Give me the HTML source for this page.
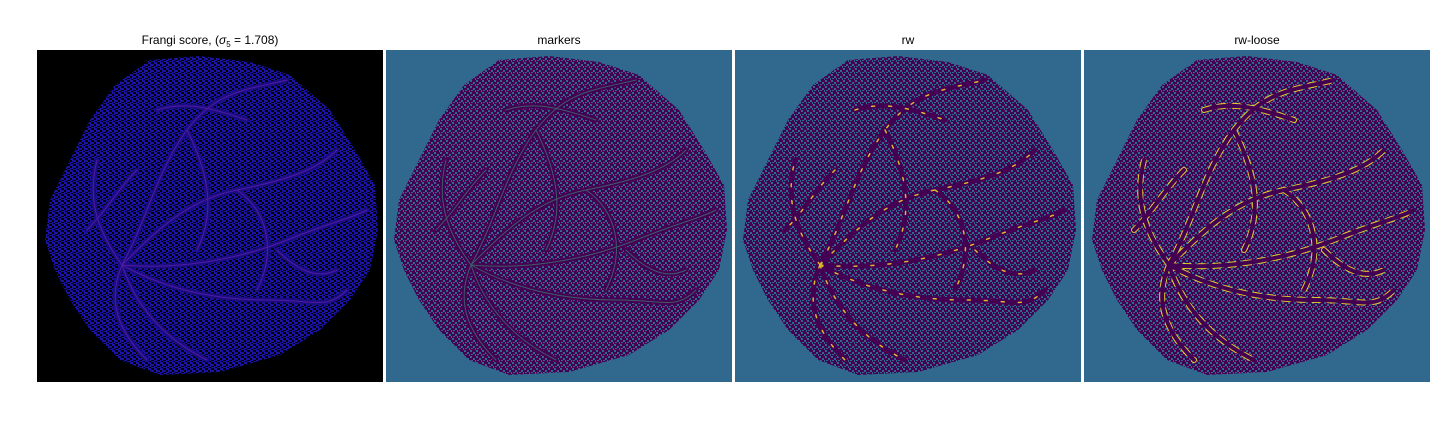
<!DOCTYPE html>
<html><head><meta charset="utf-8"><style>
body{margin:0;background:#fff;width:1440px;height:432px;overflow:hidden;font-family:"Liberation Sans","DejaVu Sans",sans-serif}
</style></head><body>
<svg width="1440" height="432" viewBox="0 0 1440 432">
<defs>
<pattern id="p1" width="6" height="6" patternUnits="userSpaceOnUse">
<rect width="6" height="6" fill="#1a12a0"/><rect x="0" y="0" width="3" height="2" fill="#000"/><rect x="3" y="2" width="2" height="2" fill="#000"/><rect x="0" y="4" width="3" height="1" fill="#000"/><rect x="4" y="5" width="2" height="1" fill="#000"/>
</pattern>
<pattern id="p2" width="6" height="6" patternUnits="userSpaceOnUse">
<rect width="6" height="6" fill="#440154"/><rect x="0" y="0" width="2" height="2" fill="#31688e"/><rect x="3" y="2" width="2" height="2" fill="#31688e"/><rect x="1" y="4" width="2" height="1" fill="#31688e"/><rect x="5" y="4" width="1" height="2" fill="#31688e"/>
</pattern>
<path id="blob" d="M113,10 L163,6 L213,12 L253,25 L293,60 L318,100 L338,135 L341,180 L333,220 L313,250 L283,280 L243,305 L183,322 L123,325 L83,310 L53,280 L33,250 L18,220 L8,190 L13,150 L33,110 L53,70 L78,35 Z"/>
<g id="ves" fill="none" stroke-linecap="round">
<path d="M85,215 C120,180 150,150 200,140 S280,120 300,100"/>
<path d="M85,215 C110,170 120,120 150,80 S210,40 250,30"/>
<path d="M85,215 C140,220 200,210 250,190 S310,170 330,160"/>
<path d="M85,215 C130,240 180,250 230,250 S290,260 310,240"/>
<path d="M85,215 C100,260 130,290 170,310"/>
<path d="M85,215 C70,250 80,280 110,310"/>
<path d="M85,215 C60,180 50,150 60,110"/>
<path d="M150,80 C170,120 180,160 160,200"/>
<path d="M200,140 C230,160 240,200 220,240"/>
<path d="M120,60 C150,50 180,60 210,70"/>
<path d="M240,200 C260,220 280,230 300,220"/>
<path d="M100,120 C80,140 70,160 50,180"/>
</g>
</defs>
<g transform="translate(37,50)">
<rect width="346" height="332" fill="#000"/>
<use href="#blob" fill="url(#p1)"/>
<use href="#ves" stroke="#1a0d80" stroke-width="5"/>
<use href="#ves" stroke="#7a20c0" stroke-width="1" opacity="0.6"/>
</g>
<g transform="translate(386,50)">
<rect width="346" height="332" fill="#31688e"/>
<use href="#blob" fill="url(#p2)"/>
<use href="#ves" stroke="#440154" stroke-width="5"/>
<use href="#ves" stroke="#35b779" stroke-width="1" opacity="0.5"/>
</g>
<g transform="translate(735,50)">
<rect width="346" height="332" fill="#31688e"/>
<use href="#blob" fill="url(#p2)"/>
<use href="#ves" stroke="#440154" stroke-width="5"/>
<use href="#ves" stroke="#fde725" stroke-width="1.5" stroke-dasharray="3 14" opacity="0.8"/>
</g>
<g transform="translate(1084,50)">
<rect width="346" height="332" fill="#31688e"/>
<use href="#blob" fill="url(#p2)"/>
<use href="#ves" stroke="#fde725" stroke-width="6" stroke-dasharray="6 9" opacity="0.85"/>
<use href="#ves" stroke="#440154" stroke-width="4"/>
</g>
<g font-size="12" fill="#000" text-anchor="middle">
<text x="210" y="44">Frangi score, (<tspan font-style="italic">σ</tspan><tspan font-size="8" dy="3">5</tspan><tspan dy="-3"> = 1.708)</tspan></text>
<text x="559" y="44">markers</text>
<text x="908" y="44">rw</text>
<text x="1257" y="44">rw-loose</text>
</g>
</svg>
</body></html>
